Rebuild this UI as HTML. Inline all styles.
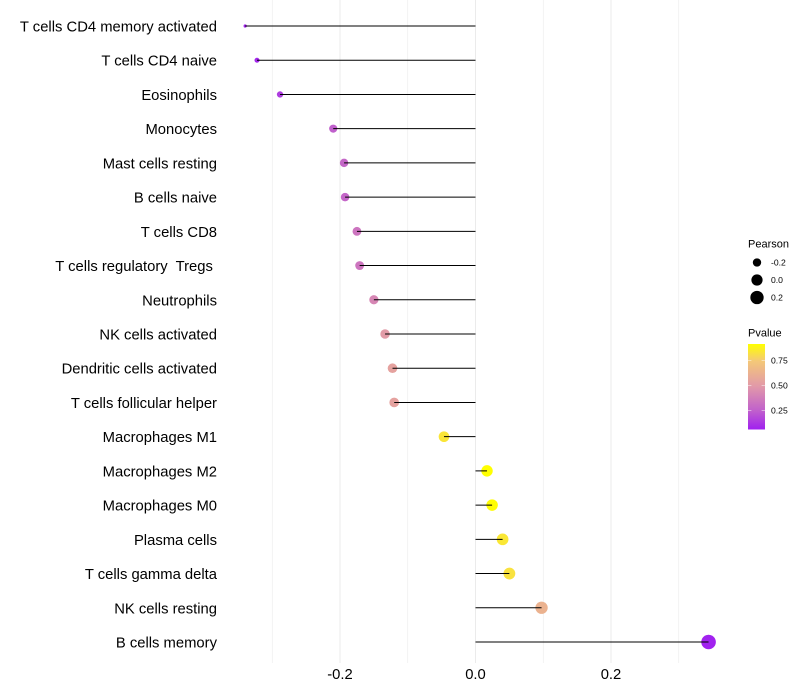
<!DOCTYPE html>
<html>
<head>
<meta charset="utf-8">
<title>Immune cell correlation lollipop chart</title>
<style>
html,body{margin:0;padding:0;background:#fff;}
svg{display:block;font-family:"Liberation Sans",sans-serif;}
text{white-space:pre;}
</style>
</head>
<body>
<svg id="chart" width="800" height="700" viewBox="0 0 800 700" xmlns="http://www.w3.org/2000/svg">
<defs><linearGradient id="pvalue-gradient" x1="0" y1="1" x2="0" y2="0"></linearGradient></defs>
<g id="grid"></g>
<g id="stems"></g>
<g id="dots"></g>
<g id="ylabels"></g>
<g id="xlabels"></g>
<g id="legend-size">
<text x="748" y="247.5" font-size="11">Pearson</text>
</g>
<g id="legend-color">
<text x="748" y="336.7" font-size="11">Pvalue</text>
<rect x="748" y="344" width="17" height="85.5" fill="url(#pvalue-gradient)"></rect>
</g>
</svg>
<script>
const categories = ["T cells CD4 memory activated","T cells CD4 naive","Eosinophils","Monocytes","Mast cells resting","B cells naive","T cells CD8","T cells regulatory  Tregs ","Neutrophils","NK cells activated","Dendritic cells activated","T cells follicular helper","Macrophages M1","Macrophages M2","Macrophages M0","Plasma cells","T cells gamma delta","NK cells resting","B cells memory"];
const pearson = [-0.34,-0.3225,-0.2885,-0.21,-0.194,-0.1925,-0.175,-0.171,-0.15,-0.1335,-0.1225,-0.12,-0.0465,0.017,0.0245,0.04,0.05,0.0975,0.344];
const pvalues = [0.07,0.08,0.145,0.25,0.28,0.275,0.335,0.34,0.41,0.5,0.54,0.54,0.835,0.915,0.91,0.84,0.825,0.625,0.065];
const xTicks = [-0.2,0,0.2];
const xGrid = [-0.3,-0.2,-0.1,0,0.1,0.2,0.3];
const sizeLegendValues = [-0.2,0,0.2];
const colorbarTicks = [0.25,0.5,0.75];
const colorStops = [[0,"#a020f0"],[0.22,"#c060cc"],[0.51,"#e29aa8"],[0.8,"#f4c878"],[1,"#ffff00"]];

const NS = "http://www.w3.org/2000/svg";
const pMin = 0.06, pMax = 0.915;
const xScale = v => 475.5 + v * 677.5;
const yScale = i => 26 + i * (616 / (categories.length - 1));
const pearsonMin = Math.min(...pearson), pearsonMax = Math.max(...pearson);
const radius = v => 1.6 + 5.7 * Math.sqrt((v - pearsonMin) / (pearsonMax - pearsonMin));
const hex = s => [1,3,5].map(i => parseInt(s.substr(i,2),16));
function colorFor(p){
  const t = Math.max(0, Math.min(1, (p - pMin) / (pMax - pMin)));
  for (let i = 1; i < colorStops.length; i++){
    if (t <= colorStops[i][0]){
      const a = colorStops[i-1], b = colorStops[i];
      const f = (t - a[0]) / (b[0] - a[0]);
      const ca = hex(a[1]), cb = hex(b[1]);
      return "rgb(" + ca.map((c,k) => Math.round(c + (cb[k]-c)*f)).join(",") + ")";
    }
  }
  return colorStops[colorStops.length-1][1];
}
function make(tag, attrs, parent, txt){
  const el = document.createElementNS(NS, tag);
  for (const k in attrs) el.setAttribute(k, attrs[k]);
  if (txt !== undefined) el.textContent = txt;
  document.getElementById(parent).appendChild(el);
  return el;
}
const slug = s => s.trim().toLowerCase().replace(/[^a-z0-9]+/g, "-");

xGrid.forEach(v => {
  const el = make("line", {x1:xScale(v), x2:xScale(v), y1:0, y2:663, stroke:"#ebebeb", "stroke-width":Math.round(v*10)%2===0?1:0.6}, "grid");
  
  
});

categories.forEach((c,i) => {
  const y = yScale(i), v = pearson[i];
  const dot = make("circle", {cx:xScale(v), cy:y, r:radius(v), fill:colorFor(pvalues[i])}, "dots");
  
  
  const stem = make("line", {x1:xScale(0), x2:xScale(v), y1:y, y2:y, stroke:"#000", "stroke-width":1}, "dots");
  
  
  const label = make("text", {x:217, y:y+5.5, "text-anchor":"end", "font-size":14.8, fill:"#000"}, "ylabels", c);
  
  
});

xTicks.forEach(v => {
  const t = make("text", {x:xScale(v), y:679, "text-anchor":"middle", "font-size":14.8, fill:"#000"}, "xlabels", v.toFixed(1));
  
  
});

sizeLegendValues.forEach((v,i) => {
  const y = 262.5 + i * 17.5;
  const c = make("circle", {cx:757, cy:y, r:radius(v), fill:"#000"}, "legend-size");
  
  
  const t = make("text", {x:771, y:y+3, "font-size":8.6, fill:"#000"}, "legend-size", v.toFixed(1));
  
  
});

const gradient = document.getElementById("pvalue-gradient");
colorStops.forEach(s => {
  const st = document.createElementNS(NS, "stop");
  st.setAttribute("offset", s[0]);
  st.setAttribute("stop-color", s[1]);
  gradient.appendChild(st);
});

colorbarTicks.forEach(p => {
  const y = 344 + (pMax - p) / (pMax - pMin) * 85.5;
  [[748,751.4],[761.6,765]].forEach(seg => {
    const m = make("line", {x1:seg[0], x2:seg[1], y1:y, y2:y, stroke:"#fff", "stroke-width":0.6, opacity:0.8}, "legend-color");
    
    
  });
  const t = make("text", {x:771, y:y+3, "font-size":8.6, fill:"#000"}, "legend-color", p.toFixed(2));
  
  
});
</script>
</body>
</html>
